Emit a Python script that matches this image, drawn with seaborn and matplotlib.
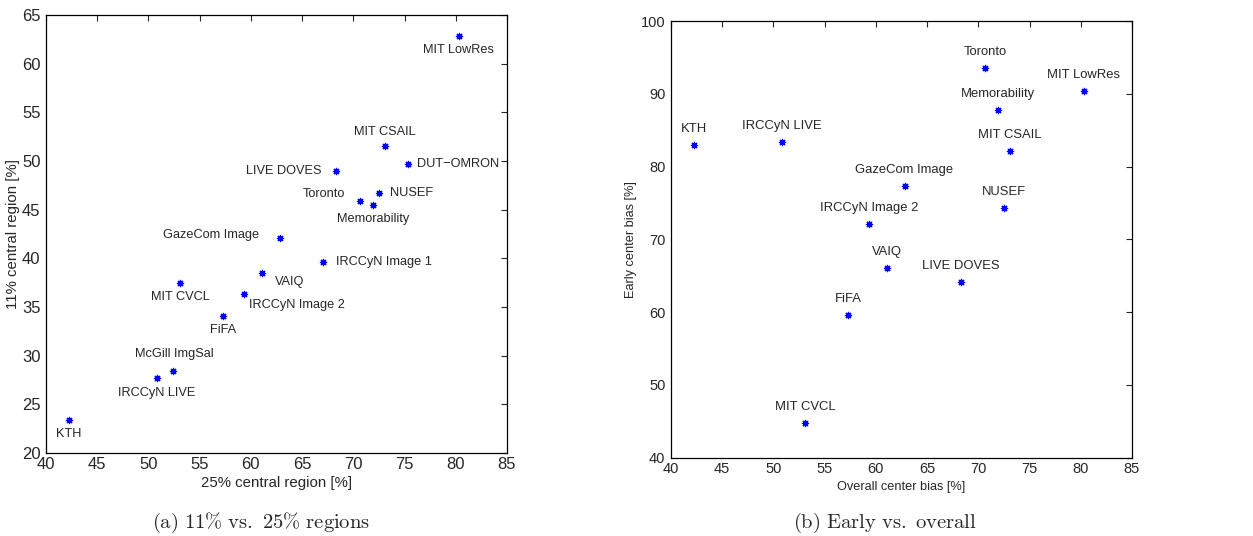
import pandas as pd
import seaborn as sns
import matplotlib.pyplot as plt

# Left panel: 11% vs. 25% central region
names_a = ["MIT LowRes", "MIT CSAIL", "DUT\u2212OMRON", "LIVE DOVES", "NUSEF", "Toronto",
           "Memorability", "GazeCom Image", "IRCCyN Image 1", "VAIQ", "MIT CVCL",
           "IRCCyN Image 2", "FiFA", "McGill ImgSal", "IRCCyN LIVE", "KTH"]
region25 = [80.3, 73.1, 75.3, 68.3, 72.5, 70.7, 71.9, 62.8, 67.0, 61.1, 53.1, 59.3, 57.3, 52.4, 50.8, 42.2]
region11 = [62.8, 51.5, 49.7, 49.0, 46.7, 45.9, 45.5, 42.1, 39.6, 38.5, 37.5, 36.3, 34.1, 28.4, 27.7, 23.4]

# Right panel: early vs. overall center bias
names_b = ["Toronto", "MIT LowRes", "Memorability", "KTH", "IRCCyN LIVE", "MIT CSAIL",
           "GazeCom Image", "NUSEF", "IRCCyN Image 2", "VAIQ", "LIVE DOVES", "FiFA", "MIT CVCL"]
overall_bias = [70.7, 80.3, 71.9, 42.2, 50.8, 73.1, 62.8, 72.5, 59.3, 61.1, 68.3, 57.3, 53.1]
early_bias = [93.5, 90.4, 87.8, 82.9, 83.4, 82.1, 77.3, 74.3, 72.1, 66.1, 64.2, 59.6, 44.8]

# label placement for the left panel (dx, dy in pixels, alignment)
label_pos_a = {
    "MIT LowRes": (0, -14, "center"), "MIT CSAIL": (0, 14, "center"),
    "DUT\u2212OMRON": (9, 0, "left"), "LIVE DOVES": (-14, 0, "right"),
    "NUSEF": (11, 0, "left"), "Toronto": (-15, 7, "right"),
    "Memorability": (0, -14, "center"), "GazeCom Image": (-20, 3, "right"),
    "IRCCyN Image 1": (13, 0, "left"), "VAIQ": (13, -9, "left"),
    "MIT CVCL": (0, -14, "center"), "IRCCyN Image 2": (5, -11, "left"),
    "FiFA": (0, -14, "center"), "McGill ImgSal": (1, 17, "center"),
    "IRCCyN LIVE": (0, -15, "center"), "KTH": (0, -14, "center"),
}

sns.set_style("white")
plt.rcParams["font.family"] = ["Liberation Sans", "DejaVu Sans"]
plt.rcParams["mathtext.fontset"] = "cm"

df_a = pd.DataFrame({"x": region25, "y": region11, "name": names_a})
df_b = pd.DataFrame({"x": overall_bias, "y": early_bias, "name": names_b})

fig = plt.figure(figsize=(12.53, 5.36), dpi=100)
ax1 = fig.add_axes([0.0367, 0.1549, 0.3679, 0.8171])
ax2 = fig.add_axes([0.5355, 0.1461, 0.3679, 0.8147])

star = (8, 2, 0)
sns.scatterplot(data=df_a, x="x", y="y", ax=ax1, marker=star, s=20,
                color="#0000ff", edgecolor="#0000ff", linewidth=0.9, legend=False)
sns.scatterplot(data=df_b, x="x", y="y", ax=ax2, marker=star, s=20,
                color="#0000ff", edgecolor="#0000ff", linewidth=0.9, legend=False)

for _, row in df_a.iterrows():
    dx, dy, ha = label_pos_a[row["name"]]
    ax1.annotate(row["name"], (row["x"], row["y"]), xytext=(dx, dy),
                 textcoords="offset pixels", ha=ha, va="center", fontsize=9.2)

for _, row in df_b.iterrows():
    ax2.annotate(row["name"], (row["x"], row["y"]), xytext=(0, 16),
                 textcoords="offset pixels", ha="center", va="center", fontsize=9.4)

ax1.set_xlim(40, 85)
ax1.set_ylim(20, 65)
ax1.set_xticks(range(40, 86, 5))
ax1.set_yticks(range(20, 66, 5))
ax1.set_xlabel("25% central region [%]", fontsize=10.8, labelpad=3)
ax1.set_ylabel("11% central region [%]", fontsize=10.8, labelpad=1)
ax1.tick_params(labelsize=12)

ax2.set_xlim(40, 85)
ax2.set_ylim(40, 100)
ax2.set_xticks(range(40, 86, 5))
ax2.set_yticks(range(40, 101, 10))
ax2.set_xlabel("Overall center bias [%]", fontsize=9.2, labelpad=4)
ax2.set_ylabel("Early center bias [%]", fontsize=9.2, labelpad=3)
ax2.tick_params(labelsize=10.5)

for ax in (ax1, ax2):
    for sp in ax.spines.values():
        sp.set_visible(True)
        sp.set_color("black")
        sp.set_linewidth(0.9)
    ax.tick_params(direction="in", top=True, right=True, length=4, width=0.8)
    ax.tick_params(axis="x", pad=3)
    ax.tick_params(axis="y", pad=4)

fig.text(0.2083, 0.0243, r"$\mathrm{(a)\ 11\%\ vs.\ 25\%\ regions}$", ha="center",
         va="center", fontsize=14.8)
fig.text(0.7067, 0.0243, r"$\mathrm{(b)\ Early\ vs.\ overall}$", ha="center",
         va="center", fontsize=14.8)

plt.savefig("out.png", dpi=100)
